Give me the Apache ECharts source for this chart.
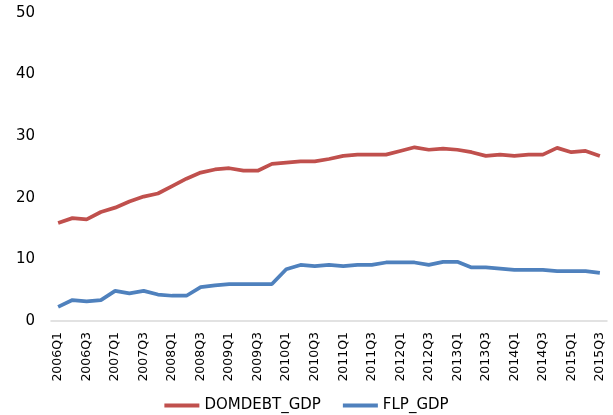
<!DOCTYPE html>
<html>
<head>
<meta charset="utf-8">
<script src="https://cdn.jsdelivr.net/npm/echarts@6/dist/echarts.min.js"></script>
<style>
  html, body { margin: 0; padding: 0; background: #fff; }
  #chart { width: 613px; height: 415px; }
</style>
</head>
<body>
<div id="chart"></div>
<script>
// Quarterly periods, 2006Q1 – 2015Q3
const quarters = [
  '2006Q1','2006Q2','2006Q3','2006Q4',
  '2007Q1','2007Q2','2007Q3','2007Q4',
  '2008Q1','2008Q2','2008Q3','2008Q4',
  '2009Q1','2009Q2','2009Q3','2009Q4',
  '2010Q1','2010Q2','2010Q3','2010Q4',
  '2011Q1','2011Q2','2011Q3','2011Q4',
  '2012Q1','2012Q2','2012Q3','2012Q4',
  '2013Q1','2013Q2','2013Q3','2013Q4',
  '2014Q1','2014Q2','2014Q3','2014Q4',
  '2015Q1','2015Q2','2015Q3'
];

// Domestic debt, % of GDP
const domdebtGdp = [
  15.9, 16.7, 16.5, 17.7, 18.4, 19.4, 20.2, 20.7,
  21.9, 23.1, 24.1, 24.6, 24.8, 24.4, 24.4, 25.5,
  25.7, 25.9, 25.9, 26.3, 26.8, 27.0, 27.0, 27.0,
  27.6, 28.2, 27.8, 28.0, 27.8, 27.4, 26.8, 27.0,
  26.8, 27.0, 27.0, 28.1, 27.4, 27.6, 26.8
];

// FLP, % of GDP
const flpGdp = [
  2.3, 3.4, 3.2, 3.4, 4.9, 4.5, 4.9, 4.3,
  4.1, 4.1, 5.5, 5.8, 6.0, 6.0, 6.0, 6.0,
  8.4, 9.1, 8.9, 9.1, 8.9, 9.1, 9.1, 9.5,
  9.5, 9.5, 9.1, 9.6, 9.6, 8.7, 8.7, 8.5,
  8.3, 8.3, 8.3, 8.1, 8.1, 8.1, 7.8
];

const yTicks = { min: 0, max: 50, interval: 10 };

const font = 'DejaVu Sans, Verdana, sans-serif';

const chart = echarts.init(document.getElementById('chart'), null, { renderer: 'canvas' });
chart.setOption({
  animation: false,
  backgroundColor: '#ffffff',
  grid: { left: 51, right: 6, top: 13, bottom: 94, containLabel: false },
  legend: {
    top: 393,
    left: 'center',
    itemWidth: 35,
    itemHeight: 4,
    itemGap: 22,
    icon: 'rect',
    textStyle: { fontFamily: font, fontSize: 15, color: '#000' },
    data: ['DOMDEBT_GDP', 'FLP_GDP']
  },
  xAxis: {
    type: 'category',
    data: quarters,
    boundaryGap: true,
    axisLine: { lineStyle: { color: '#d9d9d9', width: 1.5 } },
    axisTick: { show: false },
    axisLabel: {
      interval: 1,
      rotate: 90,
      margin: 11,
      fontFamily: font,
      fontSize: 12.5,
      color: '#000'
    },
    splitLine: { show: false }
  },
  yAxis: {
    type: 'value',
    min: yTicks.min,
    max: yTicks.max,
    interval: yTicks.interval,
    axisLine: { show: false },
    axisTick: { show: false },
    splitLine: { show: false },
    axisLabel: {
      margin: 16,
      fontFamily: font,
      fontSize: 15,
      color: '#000'
    }
  },
  series: [
    {
      name: 'DOMDEBT_GDP',
      type: 'line',
      data: domdebtGdp,
      symbol: 'none',
      lineStyle: { color: '#c0504d', width: 3.75 },
      itemStyle: { color: '#c0504d' }
    },
    {
      name: 'FLP_GDP',
      type: 'line',
      data: flpGdp,
      symbol: 'none',
      lineStyle: { color: '#4f81bd', width: 3.75 },
      itemStyle: { color: '#4f81bd' }
    }
  ]
});
</script>
</body>
</html>
